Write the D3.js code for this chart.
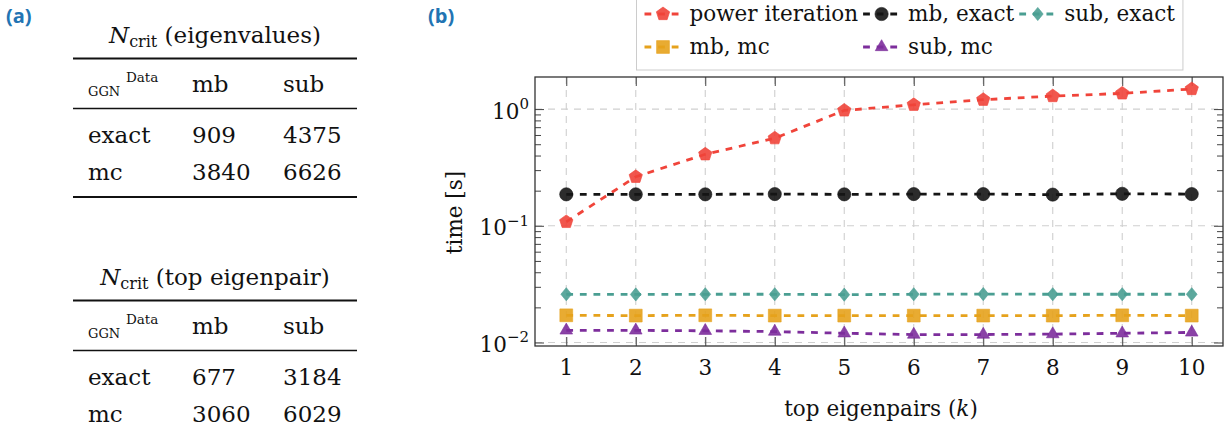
<!DOCTYPE html>
<html>
<head>
<meta charset="utf-8">
<script src="https://cdn.jsdelivr.net/npm/d3@7"></script>
<style>
  html, body { margin: 0; padding: 0; background: #fff; }
  svg { display: block; }
  text { font-family: "DejaVu Serif", "Liberation Serif", serif; fill: #111; }
  .panel { font-family: "Open Sans", "DejaVu Sans", sans-serif; font-weight: 700; fill: #2274b3; }
</style>
</head>
<body>
<svg id="fig" width="1230" height="438"></svg>
<script>
// ---- data: N_crit tables ----
const tableTitles = ["(eigenvalues)", "(top eigenpair)"];
const colHeaders = ["mb", "sub"];
const rowHeaders = ["exact", "mc"];
const critEigenvalues = [[909, 4375], [3840, 6626]];
const critTopEigenpair = [[677, 3184], [3060, 6029]];

// ---- data: run time vs. number of top eigenpairs ----
const kValues = [1, 2, 3, 4, 5, 6, 7, 8, 9, 10];
const powerIteration = [0.108, 0.263, 0.410, 0.563, 0.974, 1.089, 1.203, 1.293, 1.363, 1.486];
const mbExact = [0.186, 0.186, 0.186, 0.187, 0.186, 0.187, 0.187, 0.185, 0.188, 0.187];
const subExact = [0.0259, 0.0258, 0.0259, 0.0259, 0.0257, 0.0259, 0.0260, 0.0259, 0.0259, 0.0259];
const mbMc = [0.0171, 0.0170, 0.0171, 0.0170, 0.0170, 0.0170, 0.0170, 0.0170, 0.0171, 0.0170];
const subMc = [0.0127, 0.0127, 0.0126, 0.0124, 0.0120, 0.0117, 0.0117, 0.0118, 0.0120, 0.0122];
const xTicks = [1, 2, 3, 4, 5, 6, 7, 8, 9, 10];
const yTickExponents = [0, -1, -2];

const seriesList = [
  { name: "power iteration", values: powerIteration, color: "#f0443a", mark: "pentagon" },
  { name: "mb, exact", values: mbExact, color: "#151515", mark: "circle" },
  { name: "sub, exact", values: subExact, color: "#4a9e92", mark: "diamond" },
  { name: "mb, mc", values: mbMc, color: "#e6a21c", mark: "square" },
  { name: "sub, mc", values: subMc, color: "#7d2e9c", mark: "triangle" }
];

const svg = d3.select("#fig");
const FS = 21.5;    // plot font size
const TFS = 23;     // table font size

// ---------- panel labels ----------
svg.append("text").attr("class", "panel").attr("x", 6).attr("y", 23).attr("font-size", 20).text("(a)");
svg.append("text").attr("class", "panel").attr("x", 428).attr("y", 23).attr("font-size", 20).text("(b)");

// ---------- tables ----------
function drawTable(top, title, values, bottomRule) {
  const g = svg.append("g");
  const L = 73, R = 357;
  // title: N_crit (...)
  const t = g.append("text").attr("x", 215).attr("y", top).attr("text-anchor", "middle").attr("font-size", TFS);
  t.append("tspan").attr("font-style", "italic").text("N");
  t.append("tspan").attr("font-size", 16).attr("dy", 4).text("crit");
  t.append("tspan").attr("dy", -4).text(" " + title);
  // rules
  g.append("line").attr("x1", L).attr("x2", R).attr("y1", top + 15.5).attr("y2", top + 15.5)
    .attr("stroke", "#111").attr("stroke-width", 2);
  g.append("line").attr("x1", L).attr("x2", R).attr("y1", top + 65.5).attr("y2", top + 65.5)
    .attr("stroke", "#111").attr("stroke-width", 1.3);
  if (bottomRule) {
    g.append("line").attr("x1", L).attr("x2", R).attr("y1", top + 154).attr("y2", top + 154)
      .attr("stroke", "#111").attr("stroke-width", 2);
  }
  // header cell: GGN / Data
  g.append("text").attr("x", 88).attr("y", top + 53).attr("font-size", 13).text("GGN");
  g.append("text").attr("x", 126).attr("y", top + 39).attr("font-size", 13.5).text("Data");
  const colX = [192, 283];
  colHeaders.forEach((h, j) =>
    g.append("text").attr("x", colX[j]).attr("y", top + 49).attr("font-size", TFS).text(h));
  // body rows
  const rowY = [top + 99.5, top + 137];
  rowHeaders.forEach((r, i) => {
    g.append("text").attr("x", 88).attr("y", rowY[i]).attr("font-size", TFS).text(r);
    values[i].forEach((v, j) =>
      g.append("text").attr("x", colX[j]).attr("y", rowY[i]).attr("font-size", TFS).text(v));
  });
}
drawTable(43, tableTitles[0], critEigenvalues, true);
drawTable(285, tableTitles[1], critTopEigenpair, false);

// ---------- time plot ----------
const plot = { left: 535, right: 1223, top: 77, bottom: 346 };
const x = d3.scaleLinear().domain([0.55, 10.45]).range([plot.left, plot.right]);
const y = d3.scaleLog().domain([Math.pow(10, -2.03), Math.pow(10, 0.275)]).range([plot.bottom, plot.top]);

const gp = svg.append("g");

// grid
const gridStyle = sel => sel.attr("stroke", "#cfcfcf").attr("stroke-width", 1.1).attr("stroke-dasharray", "7,6");
gp.append("g").selectAll("line").data(xTicks).join("line")
  .attr("x1", d => x(d)).attr("x2", d => x(d)).attr("y1", plot.top).attr("y2", plot.bottom)
  .call(gridStyle);
gp.append("g").selectAll("line").data(yTickExponents).join("line")
  .attr("y1", d => y(Math.pow(10, d))).attr("y2", d => y(Math.pow(10, d)))
  .attr("x1", plot.left).attr("x2", plot.right)
  .call(gridStyle);

// axes with inward ticks on all four sides
const majorY = yTickExponents.map(e => Math.pow(10, e));
const minorY = [];
[-3, -2, -1, 0].forEach(e => { for (let m = 2; m <= 9; m++) minorY.push(m * Math.pow(10, e)); });
const minorYIn = minorY.filter(v => v >= y.domain()[0] && v <= y.domain()[1]);

const axisColor = "#444";
function styleAxis(g) {
  g.select(".domain").remove();
  g.selectAll(".tick line").attr("stroke", axisColor).attr("stroke-width", 1);
  g.selectAll(".tick text").remove();
}
gp.append("g").attr("transform", `translate(0,${plot.bottom})`)
  .call(d3.axisTop(x).tickValues(xTicks).tickSize(9)).call(styleAxis);
gp.append("g").attr("transform", `translate(0,${plot.top})`)
  .call(d3.axisBottom(x).tickValues(xTicks).tickSize(9)).call(styleAxis);
gp.append("g").attr("transform", `translate(${plot.left},0)`)
  .call(d3.axisRight(y).tickValues(majorY).tickSize(9)).call(styleAxis);
gp.append("g").attr("transform", `translate(${plot.left},0)`)
  .call(d3.axisRight(y).tickValues(minorYIn).tickSize(6)).call(styleAxis);
gp.append("g").attr("transform", `translate(${plot.right},0)`)
  .call(d3.axisLeft(y).tickValues(majorY).tickSize(9)).call(styleAxis);
gp.append("g").attr("transform", `translate(${plot.right},0)`)
  .call(d3.axisLeft(y).tickValues(minorYIn).tickSize(6)).call(styleAxis);

// frame
gp.append("rect").attr("x", plot.left).attr("y", plot.top)
  .attr("width", plot.right - plot.left).attr("height", plot.bottom - plot.top)
  .attr("fill", "none").attr("stroke", "#333").attr("stroke-width", 1.3);

// tick labels
gp.append("g").selectAll("text").data(xTicks).join("text")
  .attr("x", d => x(d)).attr("y", plot.bottom + 28.5)
  .attr("text-anchor", "middle").attr("font-size", FS).text(d => d);
const yl = gp.append("g").selectAll("text").data(yTickExponents).join("text")
  .attr("x", 529).attr("y", d => y(Math.pow(10, d)) + 9.5)
  .attr("text-anchor", "end").attr("font-size", FS);
yl.append("tspan").text("10");
yl.append("tspan").attr("font-size", 15).attr("dy", -9.5)
  .text(d => d < 0 ? "\u2212" + (-d) : String(d));

// axis titles
gp.append("text").attr("transform", `translate(462,${(plot.top + plot.bottom) / 2 + 1}) rotate(-90)`)
  .attr("text-anchor", "middle").attr("font-size", FS).text("time [s]");
const xt = gp.append("text").attr("x", 881).attr("y", 416)
  .attr("text-anchor", "middle").attr("font-size", FS);
xt.append("tspan").text("top eigenpairs (");
xt.append("tspan").attr("font-style", "italic").text("k");
xt.append("tspan").text(")");

// marker shapes
function markPath(kind) {
  const r = 6.6;
  const poly = (n, rad, rot) => d3.range(n).map(i => {
    const a = rot + i * 2 * Math.PI / n;
    return [rad * Math.sin(a), -rad * Math.cos(a)];
  });
  const toPath = pts => "M" + pts.map(p => p.join(",")).join("L") + "Z";
  switch (kind) {
    case "pentagon": return toPath(poly(5, 7, 0));
    case "circle": return d3.symbol(d3.symbolCircle, Math.PI * r * r)();
    case "diamond": return toPath([[0, -6.6], [5.4, 0], [0, 6.6], [-5.4, 0]]);
    case "square": return toPath([[-6.4, -6.4], [6.4, -6.4], [6.4, 6.4], [-6.4, 6.4]]);
    case "triangle": return toPath(poly(3, 7.3, 0));
  }
}
function drawMark(g, kind, color, tx, ty) {
  return g.append("path").attr("d", markPath(kind))
    .attr("transform", `translate(${tx},${ty})`)
    .attr("fill", color).attr("fill-opacity", 0.9)
    .attr("stroke", color).attr("stroke-opacity", 0.6).attr("stroke-width", 1);
}

const lineGen = d3.line().x(d => x(d[0])).y(d => y(d[1]));
seriesList.forEach(s => {
  const pts = kValues.map((k, i) => [k, s.values[i]]);
  const g = gp.append("g");
  g.append("path").attr("d", lineGen(pts)).attr("fill", "none")
    .attr("stroke", s.color).attr("stroke-width", 2.8).attr("stroke-dasharray", "6.8,6.8");
  pts.forEach(p => drawMark(g, s.mark, s.color, x(p[0]), y(p[1])));
});

// ---------- legend (3 columns, column width from the widest entry) ----------
const LFS = 21.5;
const leg = svg.append("g");
const box = leg.append("rect").attr("fill", "#fff").attr("stroke", "#cccccc").attr("stroke-width", 1);
const legendRows = [14, 47];
const layout = [[0, 1, 2], [3, 4]];
const columns = [[0, 3], [1, 4], [2]];
const measure = leg.append("text").attr("font-size", LFS);
const colWidth = columns.map(c => d3.max(c, si => {
  measure.text(seriesList[si].name);
  return measure.node().getComputedTextLength();
}));
measure.remove();
const boxLeft = 636.5;
let cursor = boxLeft + 8;
const colStart = [];
colWidth.forEach(w => { colStart.push(cursor); cursor += 37 + 8 + w + 5; });
const boxRight = cursor - 5 + 8;
box.attr("x", boxLeft).attr("y", -2).attr("width", boxRight - boxLeft).attr("height", 72);
layout.forEach((row, r) => row.forEach((si, c) => {
  const s = seriesList[si];
  const cx = colStart[c] + 18.5, cy = legendRows[r];
  leg.append("line").attr("x1", cx - 18.5).attr("x2", cx + 18.5).attr("y1", cy).attr("y2", cy)
    .attr("stroke", s.color).attr("stroke-width", 2.8).attr("stroke-dasharray", "6.8,6.8");
  drawMark(leg, s.mark, s.color, cx, cy);
  leg.append("text").attr("x", colStart[c] + 45).attr("y", cy + 7).attr("font-size", LFS).text(s.name);
}));
</script>
</body>
</html>
